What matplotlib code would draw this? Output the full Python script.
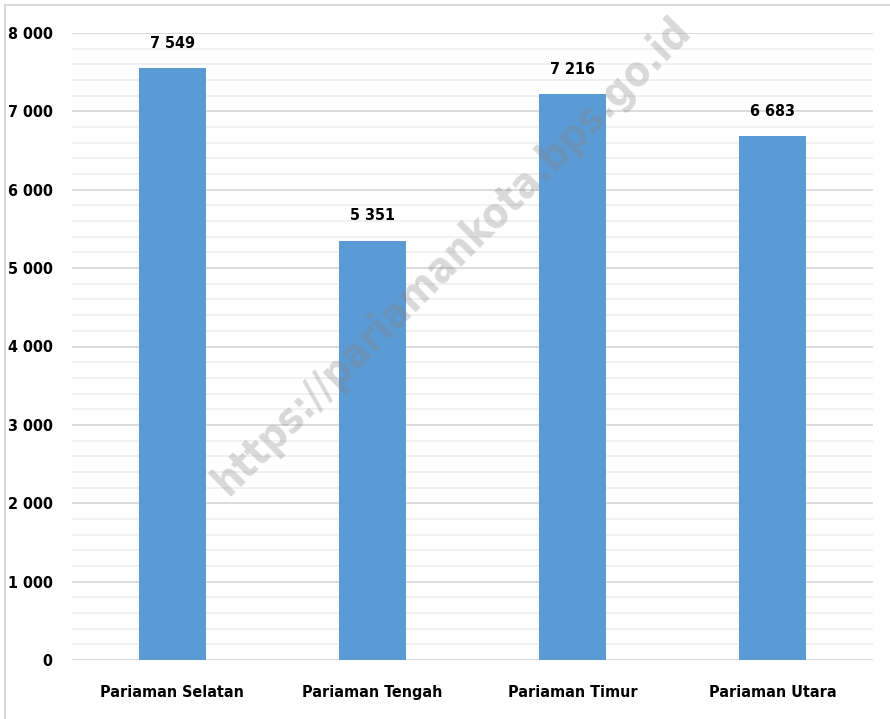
import matplotlib
matplotlib.use("Agg")
import matplotlib.pyplot as plt
from matplotlib.patches import Rectangle
from matplotlib.ticker import MultipleLocator, FuncFormatter

categories = ["Pariaman Selatan", "Pariaman Tengah", "Pariaman Timur", "Pariaman Utara"]
values = [7549, 5351, 7216, 6683]
yticks = [0, 1000, 2000, 3000, 4000, 5000, 6000, 7000, 8000]

plt.rcParams['font.family'] = ['DejaVu Sans']
plt.rcParams['font.stretch'] = 'condensed'

def fmt(v):
    return f"{int(v):,}".replace(",", " ")

fig = plt.figure(figsize=(8.9, 7.19), dpi=100)
ax = fig.add_axes([72/890, 1-660/719, (873-72)/890, (660-33)/719])

x = list(range(len(categories)))
ax.bar(x, values, width=0.335, color="#5B9BD5", zorder=3)
for xi, v in zip(x, values):
    ax.text(xi, v + 220, fmt(v), ha="center", va="bottom", fontsize=11.5,
            fontweight="bold", color="black", stretch="condensed")

ax.set_xlim(-0.5, 3.5)
ax.set_ylim(0, 8000)
ax.set_yticks(yticks)
ax.yaxis.set_major_formatter(FuncFormatter(lambda v, p: fmt(v)))
ax.yaxis.set_minor_locator(MultipleLocator(200))
ax.set_xticks(x)
ax.set_xticklabels(categories)
ax.grid(axis="y", which="major", color="#D9D9D9", linewidth=1.3, zorder=0)
ax.grid(axis="y", which="minor", color="#F0F0F0", linewidth=1.3, zorder=0)
for s in ax.spines.values():
    s.set_visible(False)
ax.tick_params(axis="both", which="both", length=0)
ax.tick_params(axis="y", pad=14, labelsize=11.5)
ax.tick_params(axis="x", pad=18, labelsize=11.5)
for lab in ax.get_xticklabels() + ax.get_yticklabels():
    lab.set_fontweight("bold")
    lab.set_fontstretch("condensed")

ax.axhline(0, color="#D9D9D9", linewidth=1.5, zorder=2)

fig.patches.append(Rectangle((5/890, -0.1), 1.2, 1 - 5/719 + 0.1, transform=fig.transFigure,
                             fill=False, edgecolor="#D9D9D9", linewidth=1.5))

fig.text(452/890, 1-256/719, "https://pariamankota.bps.go.id", rotation=45,
         ha="center", va="center", fontsize=30, fontweight="bold",
         family=["DejaVu Sans"], color="#808080", alpha=0.3, zorder=10)

fig.savefig("out.png", dpi=100)
